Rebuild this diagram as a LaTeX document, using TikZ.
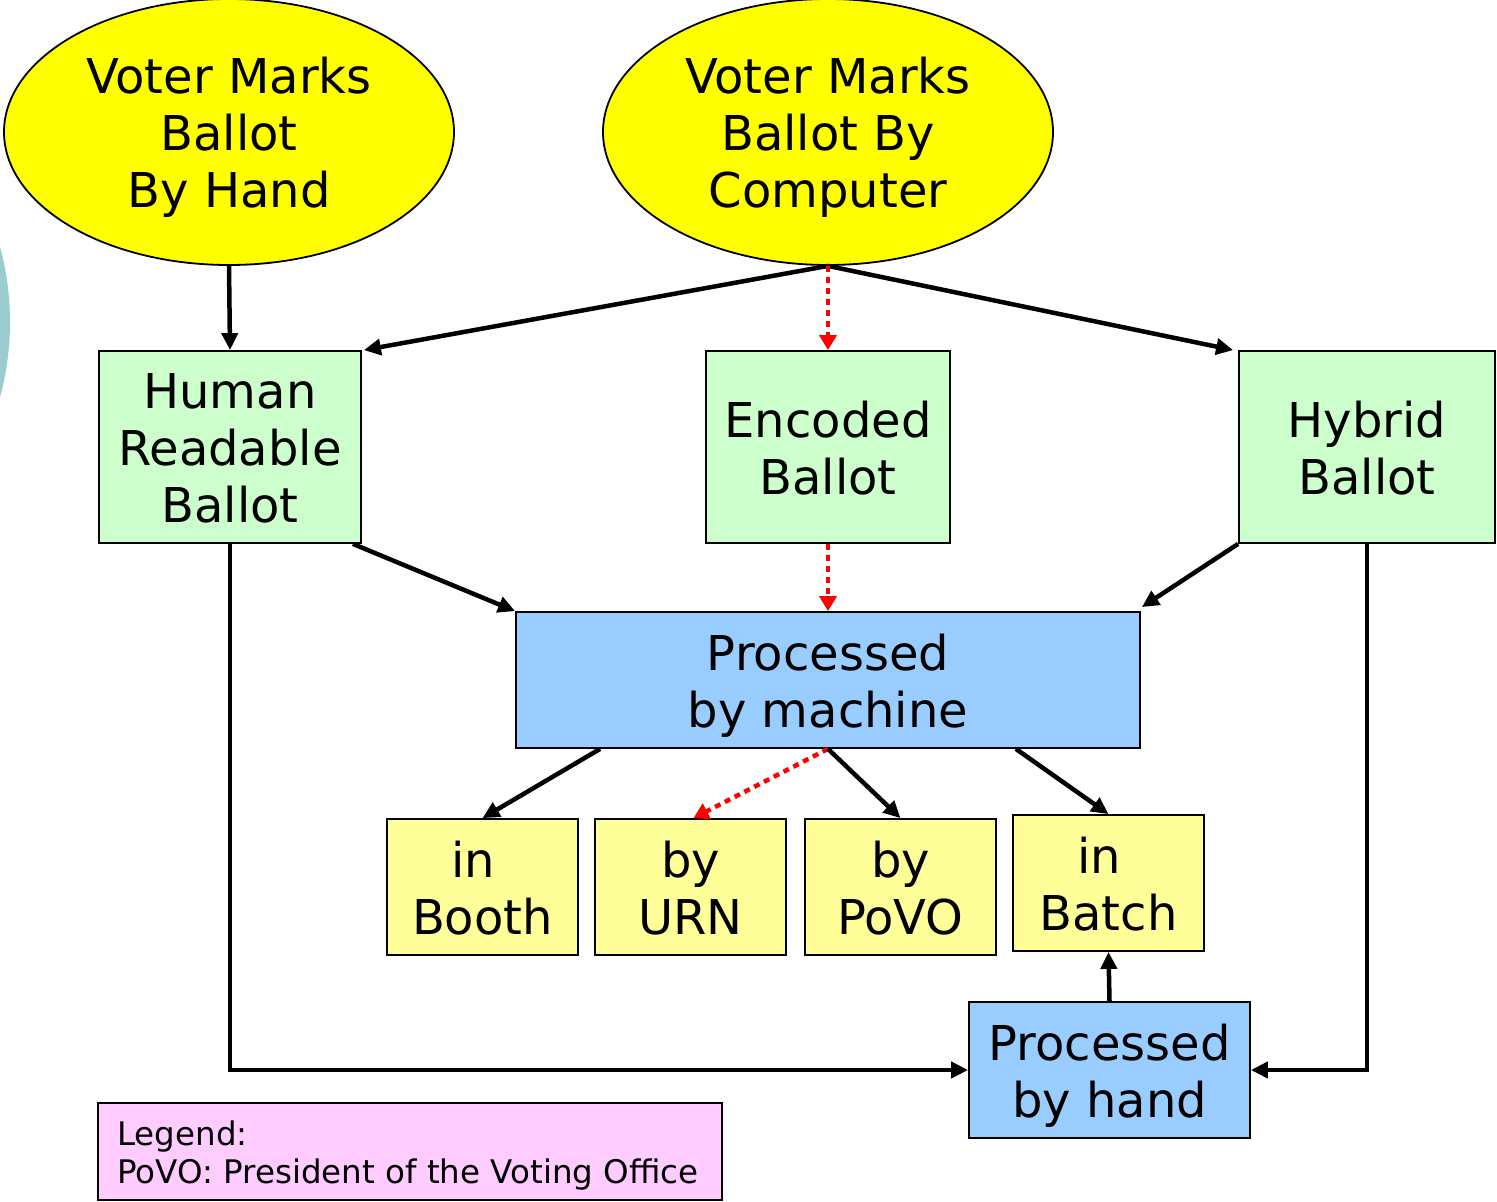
\documentclass[tikz,border=0pt]{standalone}
\usepackage{fontspec}
\setmainfont{DejaVu Sans}
\usetikzlibrary{shapes.geometric,arrows.meta,calc}
\definecolor{ellyel}{HTML}{FFFF00}
\definecolor{boxgreen}{HTML}{CCFFCC}
\definecolor{boxblue}{HTML}{99CCFF}
\definecolor{boxyel}{HTML}{FFFF99}
\definecolor{boxpink}{HTML}{FFCCFF}
\definecolor{tealarc}{HTML}{99CCCC}
\newcommand\tup{\rule{0pt}{47pt}}
\newcommand\tupb{\rule{0pt}{38pt}}
\begin{document}
\begin{tikzpicture}[x=1pt,y=-1pt,
  bigtext/.style={font=\fontsize{48}{57}\selectfont, align=center},
  oval/.style={ellipse, draw=black, line width=1.8pt, fill=ellyel, minimum width=450pt, minimum height=266pt, inner sep=0pt, bigtext},
  gbox/.style={draw=black, line width=1.8pt, fill=boxgreen, inner sep=0pt, bigtext},
  bbox/.style={draw=black, line width=1.8pt, fill=boxblue, inner sep=0pt, bigtext},
  ybox/.style={draw=black, line width=1.8pt, fill=boxyel, inner sep=0pt, bigtext, minimum width=191pt, minimum height=136pt},
  arr/.style={line width=4.5pt, -{Triangle[length=17pt,width=16pt]}},
  redarr/.style={line width=4.5pt, red, dash pattern=on 6pt off 5pt, -{Triangle[length=15pt,width=17pt]}}
]
\useasboundingbox (0,0) rectangle (1497,1202);
\fill[white] (0,0) rectangle (1497,1202);
% decorative arc at left edge
\begin{scope}
\clip (0,0) rectangle (1497,1202);
\fill[tealarc] (-276,322) circle[radius=286];
\end{scope}

\node[oval] (e1) at (229,132) {\tup Voter Marks\\Ballot\\By Hand};
\node[oval] (e2) at (828,132) {\tup Voter Marks\\Ballot By\\Computer};

\node[gbox, minimum width=262pt, minimum height=192pt] (hrb) at (230,447) {\tupb Human\\Readable\\Ballot};
\node[gbox, minimum width=244pt, minimum height=192pt] (enc) at (828,447) {\tupb Encoded\\Ballot};
\node[gbox, minimum width=256pt, minimum height=192pt] (hyb) at (1367,447) {\tupb Hybrid\\Ballot};

\node[bbox, minimum width=624pt, minimum height=136pt] (pbm) at (828,680) {\tup Processed\\by machine};

\node[ybox] (booth) at (482.5,887) {\tupb in\hspace*{0.4em}\\Booth};
\node[ybox] (urn) at (690.5,887) {\tupb by\\URN};
\node[ybox] (povo) at (900.5,887) {\tupb by\\PoVO};
\node[ybox] (batch) at (1108.5,883) {\tupb in\hspace*{0.4em}\\Batch};

\node[bbox, minimum width=281pt, minimum height=136pt] (pbh) at (1109.5,1070) {\tup Processed\\by hand};

\node[draw=black, line width=1.8pt, fill=boxpink, minimum width=624pt, minimum height=97pt, inner sep=0pt] (leg) at (410,1151.5) {};
\node[anchor=west, align=left, font=\fontsize{32.5}{38}\selectfont, inner sep=0pt] (legtext) at ($(leg.west)+(20,4)$) {Legend:\\PoVO: President of the Voting Office};

% connectors
\draw[arr] (e1.south) -- (hrb.north);
\draw[arr] (e2.south) -- ($(hrb.north east)+(2,0)$);
\draw[arr] (e2.south) -- ($(hyb.north west)+(-5,0)$);
\draw[redarr] (e2.south) -- (enc.north);
\draw[arr] ($(hrb.south east)+(-9,0)$) -- (pbm.north west);
\draw[redarr] (enc.south) -- (pbm.north);
\draw[arr] (hyb.south west) -- ($(pbm.north east)+(1,-4)$);
\draw[arr] ($(pbm.south west)+(85,0)$) -- (booth.north);
\draw[redarr] (pbm.south) -- ($(urn.north)+(3,0)$);
\draw[arr] (pbm.south) -- (povo.north);
\draw[arr] ($(pbm.south east)+(-125,0)$) -- (batch.north);
\draw[arr] (hrb.south) |- (pbh.west);
\draw[arr] (hyb.south) |- (pbh.east);
\draw[arr] (pbh.north) -- (batch.south);
\end{tikzpicture}
\end{document}
